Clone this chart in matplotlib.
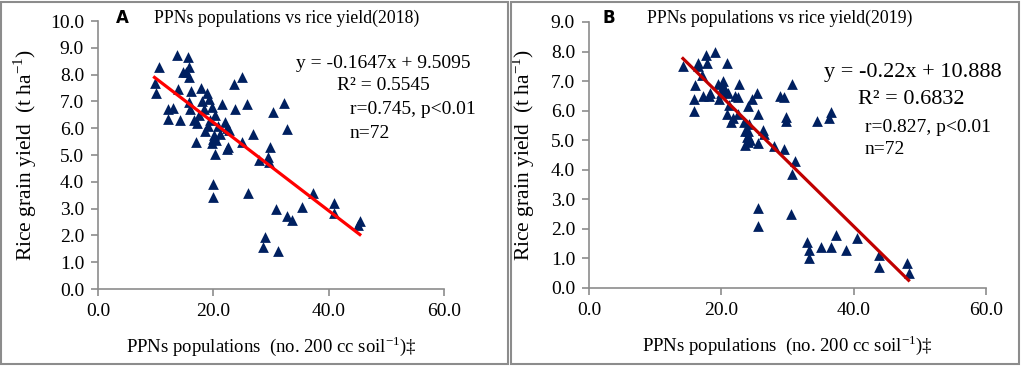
import matplotlib
matplotlib.use("Agg")
import matplotlib.pyplot as plt
from matplotlib.patches import Rectangle

plt.rcParams["font.family"] = "Liberation Serif"
plt.rcParams["mathtext.fontset"] = "custom"
plt.rcParams["mathtext.rm"] = "Liberation Serif"

# ==========================================================
# DATA
# ==========================================================

a_x = [9.8, 10.0, 10.5, 13.7, 15.6, 15.7, 14.7, 15.2, 15.8, 13.9, 16.2, 17.9,
       18.9, 19.2, 15.8, 18.1, 21.5, 23.8, 25.8, 30.3, 32.2, 32.8, 26.9, 23.5,
       25.0, 12.2, 13.0, 12.2, 14.2, 16.0, 16.6, 17.2, 18.3, 19.8, 20.3, 18.6,
       19.0, 20.2, 20.0, 20.4, 22.1, 22.3, 17.0, 19.8, 20.3, 22.3, 22.8, 24.9,
       22.6, 29.4, 29.9, 28.0, 29.6, 19.9, 19.9, 26.0, 30.9, 29.0, 28.6, 31.2,
       32.8, 33.7, 35.3, 37.2, 40.9, 40.9, 45.4, 45.0, 17.5, 20.8, 21.2, 19.5]
a_y = [7.7, 7.3, 8.3, 8.73, 8.65, 8.27, 8.1, 8.1, 7.9, 7.45, 7.4, 7.5,
       7.3, 7.1, 6.97, 7.0, 6.9, 6.72, 6.9, 6.6, 6.93, 5.96, 5.78, 7.64,
       7.9, 6.7, 6.74, 6.33, 6.3, 6.7, 6.3, 6.2, 6.7, 6.8, 6.5, 5.9,
       6.1, 5.75, 5.6, 5.55, 6.24, 6.0, 5.47, 5.46, 5.05, 5.22, 5.93, 5.47,
       5.3, 4.94, 5.3, 4.8, 4.75, 3.93, 3.43, 3.57, 2.98, 1.95, 1.57, 1.43,
       2.72, 2.57, 3.05, 3.57, 3.2, 2.85, 2.52, 2.4, 6.5, 6.1, 5.8, 6.3]

b_x = [14.2, 16.4, 17.7, 19.1, 17.9, 20.9, 17.1, 16.0, 15.8, 15.8, 17.3, 18.3,
       19.6, 20.2, 20.3, 20.6, 21.0, 22.6, 22.1, 22.5, 25.4, 24.7, 24.0, 28.8,
       30.7, 20.9, 21.8, 21.5, 22.5, 23.4, 23.6, 24.1, 23.9, 24.0, 23.6, 24.3,
       25.6, 26.3, 26.5, 25.6, 27.9, 29.4, 29.7, 29.8, 31.2, 30.7, 34.5, 36.3,
       36.5, 25.6, 25.6, 30.5, 33.0, 33.3, 33.3, 35.0, 36.5, 37.4, 38.8, 40.5,
       43.9, 43.9, 48.0, 48.3, 19.5, 20.0, 24.2, 21.2, 18.2, 24.0, 16.5, 29.4]
b_y = [7.5, 7.6, 7.9, 8.0, 7.6, 7.6, 7.2, 6.86, 6.4, 6.0, 6.5, 6.6,
       6.4, 7.0, 6.85, 6.7, 6.6, 6.9, 6.5, 6.45, 6.6, 6.4, 6.15, 6.5,
       6.9, 5.9, 5.75, 5.6, 5.9, 5.6, 5.3, 5.3, 5.1, 4.95, 4.85, 5.0,
       5.9, 5.35, 5.2, 4.9, 4.8, 4.7, 5.8, 5.65, 4.3, 3.87, 5.65, 5.75,
       5.95, 2.7, 2.1, 2.5, 1.55, 1.3, 1.0, 1.4, 1.4, 1.8, 1.3, 1.7,
       1.1, 0.7, 0.85, 0.5, 6.9, 6.6, 5.55, 6.2, 6.5, 5.15, 7.5, 6.45]

# regression lines (slope, intercept) as printed in the chart
a_fit = (-0.1647, 9.5095)
b_fit = (-0.22, 10.888)

# ==========================================================
# FIGURE
# ==========================================================

W, H = 1021, 366
fig = plt.figure(figsize=(W / 100, H / 100), dpi=100)

grey = "#8c8c8c"
navy = "#002060"


def px_axes(left, right, top, bottom):
    return fig.add_axes([left / W, 1 - bottom / H, (right - left) / W, (bottom - top) / H])


def style(ax, ymax):
    for s in ["top", "right"]:
        ax.spines[s].set_visible(False)
    for s in ["left", "bottom"]:
        ax.spines[s].set_color(grey)
        ax.spines[s].set_linewidth(1.2)
    ax.set_xlim(0, 60)
    ax.set_ylim(0, ymax)
    ax.set_xticks([0, 20, 40, 60])
    ax.set_yticks([i for i in range(int(ymax) + 1)])
    ax.xaxis.set_major_formatter(matplotlib.ticker.FormatStrFormatter("%.1f"))
    ax.yaxis.set_major_formatter(matplotlib.ticker.FormatStrFormatter("%.1f"))
    ax.tick_params(direction="out", length=5, width=1.2, color=grey,
                   labelsize=14, pad=5)
    ax.set_facecolor("none")


def draw_panel(ax, xs, ys, fit, line_color, xr):
    ax.scatter(xs, ys, marker="^", s=60, color=navy, zorder=3, linewidths=0)
    m, c = fit
    ax.plot(xr, [m * xr[0] + c, m * xr[1] + c], color=line_color, lw=2.3, zorder=4)
    for coll in ax.collections:
        coll.set_clip_on(False)


ylab = r"Rice grain yield  (t ha$^{\mathregular{-1}}$)"
xlab = r"PPNs populations  (no. 200 cc soil$^{\mathregular{-1}}$)‡"

# ---------------- panel A ----------------
axA = px_axes(98, 444, 21, 289)
style(axA, 10)
draw_panel(axA, a_x, a_y, a_fit, "#ff0000", [min(a_x), max(a_x)])
axA.set_ylabel(ylab, fontsize=15.5, labelpad=8)
axA.set_xlabel(xlab, fontsize=13.5, labelpad=10)

# ---------------- panel B ----------------
axB = px_axes(589, 986, 22, 288)
style(axB, 9)
draw_panel(axB, b_x, b_y, b_fit, "#c00000", [min(b_x), max(b_x)])
axB.set_ylabel(ylab, fontsize=15.5, labelpad=10)
axB.set_xlabel(xlab, fontsize=13.5, labelpad=10)

# ---------------- texts ----------------
def ftext(x, y, s, **kw):
    fig.text(x / W, 1 - y / H, s, **kw)


ftext(116, 18, "A", fontsize=12, fontweight="bold", family="DejaVu Sans", va="center")
ftext(603, 18, "B", fontsize=12, fontweight="bold", family="DejaVu Sans", va="center")
ftext(287, 18, "PPNs populations vs rice yield(2018)", fontsize=12.8, ha="center", va="center")
ftext(780, 18, "PPNs populations vs rice yield(2019)", fontsize=12.8, ha="center", va="center")

ftext(296, 63, "y = -0.1647x + 9.5095", fontsize=14, va="center")
ftext(337, 85, "R² = 0.5545", fontsize=14, va="center")
ftext(350, 110, "r=0.745, p<0.01", fontsize=14, va="center")
ftext(350, 133, "n=72", fontsize=14, va="center")

ftext(824, 73, "y = -0.22x + 10.888", fontsize=16, va="center")
ftext(858, 99, "R² = 0.6832", fontsize=16, va="center")
ftext(865, 127, "r=0.827, p<0.01", fontsize=14, va="center")
ftext(865, 150, "n=72", fontsize=14, va="center")

# ---------------- panel frames ----------------
fig.patches.append(Rectangle((1 / W, 2 / H), 507 / W, 362 / H, transform=fig.transFigure,
                             fill=False, edgecolor=grey, lw=1.5))
fig.patches.append(Rectangle((511 / W, 2 / H), 508 / W, 362 / H, transform=fig.transFigure,
                             fill=False, edgecolor=grey, lw=1.5))

fig.savefig("out.png", dpi=100)
